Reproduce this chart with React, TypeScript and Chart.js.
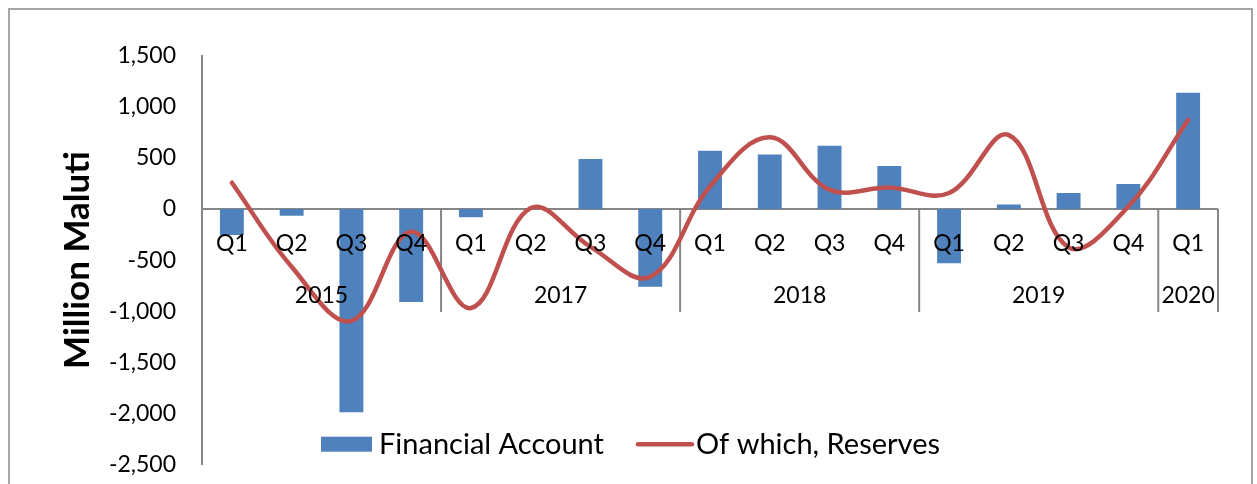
import React, { useEffect, useRef } from "react";
import { Chart, registerables } from "chart.js";

Chart.register(...registerables);

// ---- Data ----
const quarterLabels = ["Q1", "Q2", "Q3", "Q4", "Q1", "Q2", "Q3", "Q4", "Q1", "Q2", "Q3", "Q4", "Q1", "Q2", "Q3", "Q4", "Q1"];
const yearLabels = ["2015", "2017", "2018", "2019", "2020"];
const yearSpans = [4, 4, 4, 4, 1];
const financialAccount = [-255, -65, -1990, -910, -80, 0, 490, -760, 572, 536, 620, 422, -532, 46, 157, 245, 1140];
const reserves = [258, -565, -1095, -222, -970, 10, -370, -663, 222, 703, 190, 212, 157, 725, -375, 25, 873];
const seriesNames = ["Financial Account", "Of which, Reserves"];
const yMin = -2500;
const yMax = 1500;
const yStep = 500;
const yTitle = "Million Maluti";

// ---- Styles ----
const FONT = "Lato, 'Open Sans', sans-serif";
const BAR_COLOR = "#4F81BD";
const LINE_COLOR = "#C0504D";
const AXIS_COLOR = "#868686";
const TEXT_COLOR = "#000000";
const TICK_SIZE = 23;
const LEGEND_SIZE = 29;

const CANVAS_W = 1241;
const CANVAS_H = 494;

const categoryAxisPlugin = {
  id: "categoryAxisAtZero",
  beforeDatasetsDraw(chart: any) {
    const { ctx, chartArea, scales } = chart;
    const xs = scales.x;
    const ys = scales.y;
    const y0 = ys.getPixelForValue(0);
    ctx.save();
    ctx.strokeStyle = AXIS_COLOR;
    ctx.lineWidth = 2;
    ctx.beginPath();
    ctx.moveTo(chartArea.left, y0);
    ctx.lineTo(chartArea.right, y0);
    ctx.stroke();
    const n = quarterLabels.length;
    let idx = 0;
    yearSpans.forEach((span) => {
      idx += span;
      const xb = idx < n ? (xs.getPixelForValue(idx - 1) + xs.getPixelForValue(idx)) / 2 : chartArea.right;
      ctx.beginPath();
      ctx.moveTo(xb, y0);
      ctx.lineTo(xb, y0 + 103);
      ctx.stroke();
    });
    ctx.restore();
  },
  afterDatasetsDraw(chart: any) {
    const { ctx, chartArea, scales } = chart;
    const xs = scales.x;
    const ys = scales.y;
    const y0 = ys.getPixelForValue(0);
    ctx.save();
    ctx.fillStyle = TEXT_COLOR;
    ctx.font = `${TICK_SIZE}px ${FONT}`;
    ctx.textAlign = "center";
    ctx.textBaseline = "middle";
    quarterLabels.forEach((q, i) => {
      ctx.fillText(q, xs.getPixelForValue(i), y0 + 35);
    });
    let start = 0;
    const n = quarterLabels.length;
    yearLabels.forEach((yr, gi) => {
      const end = start + yearSpans[gi];
      const left = start === 0 ? chartArea.left : (xs.getPixelForValue(start - 1) + xs.getPixelForValue(start)) / 2;
      const right = end >= n ? chartArea.right : (xs.getPixelForValue(end - 1) + xs.getPixelForValue(end)) / 2;
      ctx.fillText(yr, (left + right) / 2, y0 + 87);
      start = end;
    });
    ctx.restore();
  },
};

const legendPlugin = {
  id: "excelLegend",
  afterDraw(chart: any) {
    const { ctx, chartArea, width } = chart;
    const ds = chart.data.datasets;
    ctx.save();
    ctx.font = `${LEGEND_SIZE}px ${FONT}`;
    ctx.textBaseline = "middle";
    ctx.textAlign = "left";
    const t1 = ds[0].label as string;
    const t2 = ds[1].label as string;
    const w1 = ctx.measureText(t1).width;
    const w2 = ctx.measureText(t2).width;
    const boxW = 51, boxH = 15, gap1 = 7, gapItems = 32, lineW = 58, gap2 = 2;
    const total = boxW + gap1 + w1 + gapItems + lineW + gap2 + w2;
    let x = width / 2 - total / 2;
    const yc = chartArea.bottom - 20;
    ctx.fillStyle = ds[0].backgroundColor;
    ctx.fillRect(x, yc - boxH / 2, boxW, boxH);
    x += boxW + gap1;
    ctx.fillStyle = TEXT_COLOR;
    ctx.fillText(t1, x, yc);
    x += w1 + gapItems;
    ctx.strokeStyle = ds[1].borderColor;
    ctx.lineWidth = 4.5;
    ctx.lineCap = "round";
    ctx.beginPath();
    ctx.moveTo(x + 2, yc);
    ctx.lineTo(x + lineW - 2, yc);
    ctx.stroke();
    x += lineW + gap2;
    ctx.fillText(t2, x, yc);
    ctx.restore();
  },
};

export default function App() {
  const canvasRef = useRef<HTMLCanvasElement>(null);

  useEffect(() => {
    if (!canvasRef.current) return;
    const chart = new Chart(canvasRef.current, {
      type: "bar",
      data: {
        labels: quarterLabels,
        datasets: [
          {
            type: "bar",
            label: seriesNames[0],
            data: financialAccount,
            backgroundColor: BAR_COLOR,
            borderWidth: 0,
            barPercentage: 0.4,
            categoryPercentage: 1.0,
            order: 2,
          },
          {
            type: "line",
            label: seriesNames[1],
            data: reserves,
            borderColor: LINE_COLOR,
            backgroundColor: LINE_COLOR,
            borderWidth: 4.5,
            pointRadius: 0,
            tension: 0.38,
            fill: false,
            borderCapStyle: "round",
            borderJoinStyle: "round",
            order: 1,
          },
        ],
      } as any,
      options: {
        responsive: false,
        animation: false,
        layout: { padding: { left: 0, top: 46, right: 33, bottom: 22 } },
        plugins: {
          legend: { display: false },
          tooltip: { enabled: false },
          title: { display: false },
        },
        scales: {
          x: {
            display: false,
          },
          y: {
            min: yMin,
            max: yMax,
            afterFit: (scale: any) => {
              scale.width = 192;
            },
            ticks: {
              stepSize: yStep,
              padding: 26,
              color: TEXT_COLOR,
              font: { family: FONT, size: TICK_SIZE },
              callback: (v: any) => Number(v).toLocaleString("en-US"),
            },
            grid: { display: false, drawTicks: false },
            border: { display: true, color: AXIS_COLOR, width: 2 },
            title: {
              display: true,
              text: yTitle,
              color: TEXT_COLOR,
              font: { family: FONT, size: 35, weight: "bold" },
              padding: { top: 47, bottom: 0 },
            },
          },
        },
      } as any,
      plugins: [categoryAxisPlugin, legendPlugin],
    });
    return () => chart.destroy();
  }, []);

  return (
    <div
      style={{
        position: "fixed",
        left: 8,
        top: 8,
        width: 1245,
        height: 498,
        boxSizing: "border-box",
        border: "2px solid #a6a6a6",
        background: "#fff",
      }}
    >
      <canvas ref={canvasRef} width={CANVAS_W} height={CANVAS_H} style={{ display: "block" }} />
    </div>
  );
}
